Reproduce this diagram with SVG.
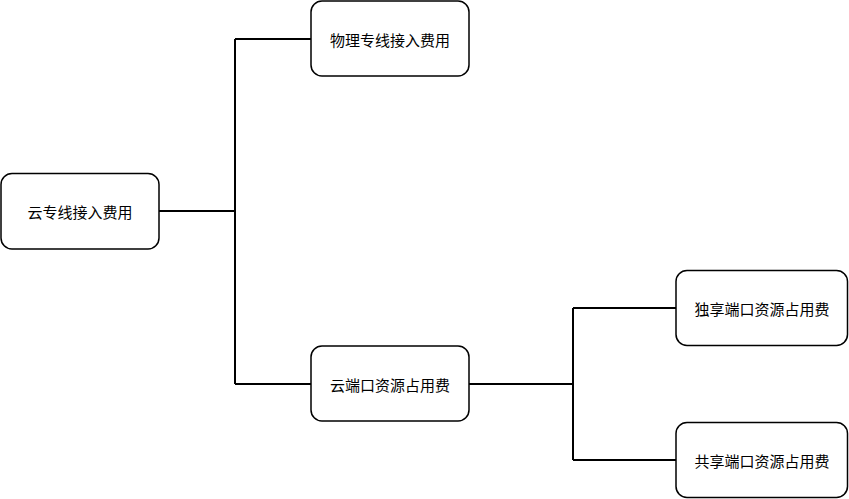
<svg xmlns="http://www.w3.org/2000/svg" width="849" height="499" viewBox="0 0 849 499">
<style>
.box{fill:#fff;stroke:#000;stroke-width:1.5}
.lbl{font-family:"Noto Sans CJK SC","Liberation Sans",sans-serif;font-size:15px;fill:#000;text-anchor:middle;dominant-baseline:central}
.con{fill:none;stroke:#000;stroke-width:2}
</style>
<rect width="849" height="499" fill="#fff"/>
<g id="connectors">
<path class="con" d="M159,211 H235 M235,39 V384 M235,39 H311 M235,384 H311"/>
<path class="con" d="M469,384 H573 M573,308 V460 M573,308 H676 M573,460 H676"/>
</g>
<g id="n1"><rect class="box" x="1" y="173.5" width="158" height="75.5" rx="11"/><text class="lbl" x="80" y="211">云专线接入费用</text></g>
<g id="n2"><rect class="box" x="311" y="1" width="158" height="75" rx="11"/><text class="lbl" x="390" y="39">物理专线接入费用</text></g>
<g id="n3"><rect class="box" x="311" y="346" width="158" height="75" rx="11"/><text class="lbl" x="390" y="384">云端口资源占用费</text></g>
<g id="n4"><rect class="box" x="676" y="270.5" width="171.5" height="75" rx="11"/><text class="lbl" x="762" y="308">独享端口资源占用费</text></g>
<g id="n5"><rect class="box" x="676" y="422.5" width="171.5" height="75" rx="11"/><text class="lbl" x="762" y="460">共享端口资源占用费</text></g>
</svg>
